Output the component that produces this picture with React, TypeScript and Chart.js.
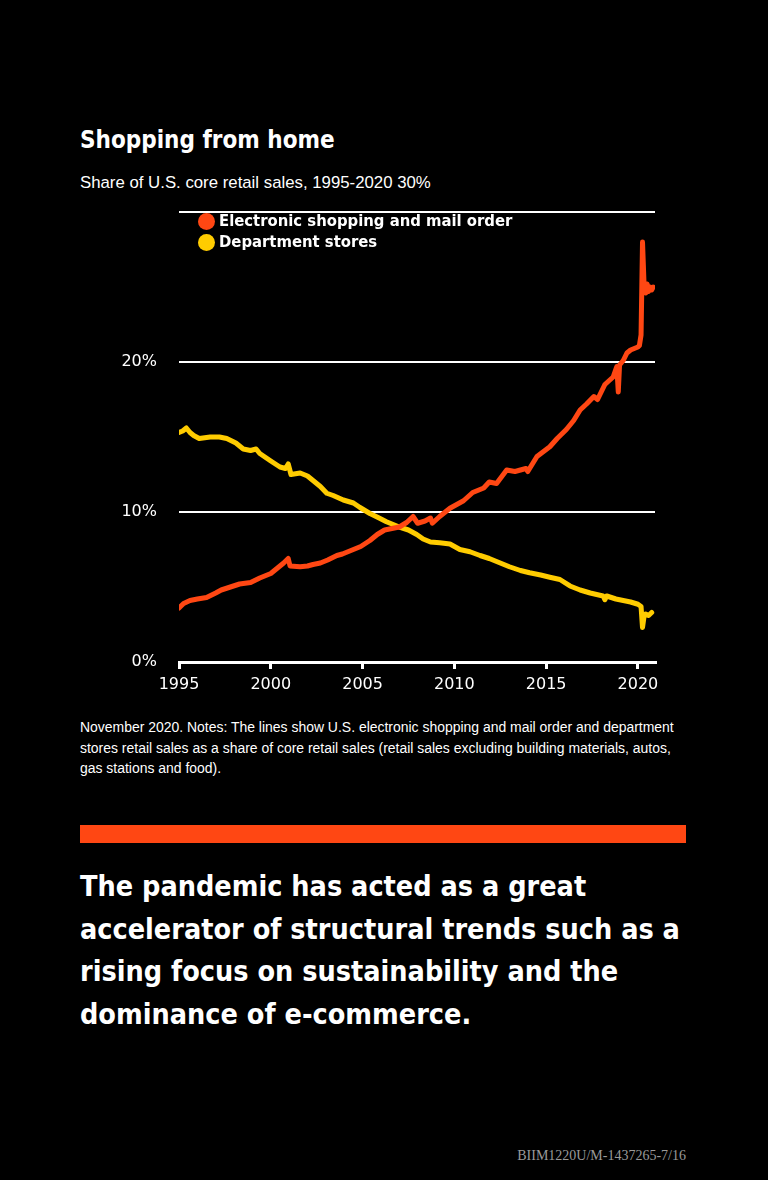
import React, { useEffect, useRef } from "react";
import { Chart, registerables } from "chart.js";

Chart.register(...registerables);

const ecomYears = [
  1995.0, 1995.25, 1995.6, 1996.0, 1996.5, 1997.0, 1997.3, 1997.8, 1998.3, 1998.9,
  1999.4, 2000.0, 2000.4, 2000.7, 2000.95, 2001.05, 2001.6, 2002.0, 2002.3, 2002.7,
  2003.1, 2003.6, 2003.9, 2004.3, 2004.9, 2005.4, 2005.8, 2006.2, 2006.6, 2007.0,
  2007.4, 2007.75, 2008.0, 2008.4, 2008.7, 2008.8, 2009.2, 2009.76, 2010.5, 2011.0,
  2011.6, 2011.9, 2012.3, 2012.85, 2013.3, 2013.9, 2014.0, 2014.5, 2015.2, 2015.6,
  2016.1, 2016.5, 2016.85, 2017.2, 2017.6, 2017.8, 2018.2, 2018.65, 2018.85, 2018.93,
  2019.0, 2019.2, 2019.4, 2019.6, 2019.8, 2020.0, 2020.08, 2020.17, 2020.25, 2020.33,
  2020.42, 2020.5, 2020.58, 2020.67, 2020.75, 2020.83,
];
const ecomValues = [
  3.6, 3.9, 4.1, 4.2, 4.3, 4.6, 4.8, 5.0, 5.2, 5.3,
  5.6, 5.9, 6.3, 6.6, 6.9, 6.4, 6.35, 6.4, 6.5, 6.6,
  6.8, 7.1, 7.2, 7.4, 7.7, 8.1, 8.5, 8.8, 8.9, 9.0,
  9.3, 9.7, 9.25, 9.4, 9.6, 9.25, 9.7, 10.25, 10.75, 11.3,
  11.6, 12.0, 11.9, 12.8, 12.7, 12.9, 12.7, 13.7, 14.35, 14.9,
  15.5, 16.1, 16.8, 17.2, 17.7, 17.5, 18.5, 19.0, 19.7, 18.0,
  19.8, 20.1, 20.6, 20.8, 20.9, 21.0, 21.1, 21.8, 28.0, 25.3,
  24.6, 25.2, 24.7, 25.0, 24.8, 25.0,
];

const deptYears = [
  1995.0, 1995.2, 1995.4, 1995.6, 1995.8, 1996.1, 1996.7, 1997.2, 1997.6, 1998.1,
  1998.5, 1998.9, 1999.2, 1999.4, 2000.0, 2000.5, 2000.8, 2000.95, 2001.1, 2001.6,
  2002.0, 2002.3, 2002.7, 2003.05, 2003.4, 2003.95, 2004.5, 2004.86, 2005.4, 2005.9,
  2006.3, 2007.0, 2007.5, 2007.95, 2008.3, 2008.7, 2009.2, 2009.76, 2010.3, 2010.85,
  2011.4, 2011.9, 2012.5, 2013.0, 2013.6, 2014.1, 2014.7, 2015.2, 2015.75, 2016.3,
  2016.85, 2017.4, 2018.1, 2018.2, 2018.3, 2018.8, 2019.2, 2019.6, 2020.0, 2020.17,
  2020.25, 2020.33, 2020.42, 2020.58, 2020.75,
];
const deptValues = [
  15.3, 15.4, 15.6, 15.3, 15.1, 14.9, 15.0, 15.0, 14.9, 14.6,
  14.2, 14.1, 14.2, 13.9, 13.4, 13.0, 12.9, 13.2, 12.5, 12.6,
  12.4, 12.1, 11.7, 11.25, 11.1, 10.8, 10.6, 10.3, 9.9, 9.6,
  9.35, 9.0, 8.8, 8.5, 8.2, 8.0, 7.95, 7.87, 7.5, 7.35,
  7.1, 6.9, 6.6, 6.35, 6.1, 5.95, 5.8, 5.65, 5.5, 5.07,
  4.8, 4.6, 4.4, 4.15, 4.4, 4.2, 4.1, 4.0, 3.85, 3.7,
  2.3, 3.0, 3.2, 3.1, 3.3,
];

const xTickYears = [1995, 2000, 2005, 2010, 2015, 2020];
const yTickValues = [0, 10, 20, 30];
const seriesLabels = ["Electronic shopping and mail order", "Department stores"];
const seriesColors = ["#ff4713", "#ffcc00"];

const FONT = "'DejaVu Sans', Verdana, sans-serif";
const FONT_COND = "'DejaVu Sans Condensed', 'DejaVu Sans', Verdana, sans-serif";

export default function App() {
  const canvasRef = useRef<HTMLCanvasElement>(null);

  useEffect(() => {
    document.body.style.margin = "0";
    document.body.style.background = "#000";
    const ctx = canvasRef.current!;
    const lineStyle = {
      borderWidth: 5,
      pointRadius: 0,
      tension: 0,
      borderJoinStyle: "round" as const,
      borderCapStyle: "round" as const,
    };
    const chart = new Chart(ctx, {
      type: "line",
      data: {
        datasets: [
          {
            label: seriesLabels[0],
            data: ecomYears.map((x, i) => ({ x, y: ecomValues[i] })),
            borderColor: seriesColors[0],
            backgroundColor: seriesColors[0],
            ...lineStyle,
          },
          {
            label: seriesLabels[1],
            data: deptYears.map((x, i) => ({ x, y: deptValues[i] })),
            borderColor: seriesColors[1],
            backgroundColor: seriesColors[1],
            ...lineStyle,
          },
        ],
      },
      options: {
        animation: false,
        responsive: false,
        maintainAspectRatio: false,
        layout: { padding: { top: 17, right: 25, left: 0, bottom: 0 } },
        plugins: { legend: { display: false }, tooltip: { enabled: false } },
        scales: {
          x: {
            type: "linear",
            min: 1995,
            max: 2020.93,
            afterBuildTicks: (scale: any) => {
              scale.ticks = xTickYears.map((v) => ({ value: v }));
            },
            afterFit: (scale: any) => {
              scale.height = 53;
              scale.paddingLeft = 0;
              scale.paddingRight = 0;
            },
            border: { display: true, color: "#ffffff", width: 3 },
            grid: {
              display: true,
              drawOnChartArea: false,
              drawTicks: true,
              tickLength: 7,
              color: "#ffffff",
              lineWidth: 3,
            },
            ticks: {
              color: "#ffffff",
              font: { family: FONT, size: 16 },
              padding: 6,
              maxRotation: 0,
              autoSkip: false,
              callback: (v: any) => String(v),
            },
          },
          y: {
            type: "linear",
            min: 0,
            max: 30,
            afterBuildTicks: (scale: any) => {
              scale.ticks = yTickValues.map((v) => ({ value: v }));
            },
            afterFit: (scale: any) => {
              scale.width = 79;
              scale.paddingTop = 0;
              scale.paddingBottom = 0;
            },
            border: { display: false },
            grid: {
              display: true,
              drawTicks: false,
              color: "#ffffff",
              lineWidth: 2,
            },
            ticks: {
              color: "#ffffff",
              font: { family: FONT, size: 16 },
              padding: 22,
              callback: (v: any) => (v === 30 ? "" : v + "%"),
            },
          },
        },
      },
    });
    return () => chart.destroy();
  }, []);

  const abs = (s: React.CSSProperties): React.CSSProperties => ({ position: "absolute", margin: 0, ...s });

  return (
    <div style={{ position: "relative", width: 768, height: 1180, background: "#000", overflow: "hidden", color: "#fff" }}>
      <div style={abs({ left: 80, top: 125, fontFamily: FONT_COND, fontStretch: "condensed", fontWeight: "bold", fontSize: 24, lineHeight: "30px", whiteSpace: "nowrap" })}>
        Shopping from home
      </div>
      <div style={abs({ left: 80, top: 173, fontFamily: "'Liberation Sans', Arial, sans-serif", fontSize: 16.8, lineHeight: "20px", whiteSpace: "nowrap" })}>
        Share of U.S. core retail sales, 1995-2020 30%
      </div>
      <canvas ref={canvasRef} width={580} height={520} style={{ position: "absolute", left: 100, top: 195, width: 580, height: 520 }} />
      {seriesLabels.map((lab, i) => (
        <div key={lab} style={abs({ left: 198, top: 211 + i * 21, height: 20, display: "flex", alignItems: "center", fontFamily: FONT_COND, fontStretch: "condensed", fontWeight: "bold", fontSize: 16.5, lineHeight: "20px", whiteSpace: "nowrap" })}>
          <span style={{ display: "inline-block", width: 17, height: 17, borderRadius: "50%", background: seriesColors[i], marginRight: 4 }} />
          {lab}
        </div>
      ))}
      <div style={abs({ left: 80, top: 717, fontFamily: "'Liberation Sans', Arial, sans-serif", fontSize: 15.5, lineHeight: "20.5px", whiteSpace: "nowrap", transform: "scaleX(0.9)", transformOrigin: "0 0" })}>
        November 2020. Notes: The lines show U.S. electronic shopping and mail order and department<br />
        stores retail sales as a share of core retail sales (retail sales excluding building materials, autos,<br />
        gas stations and food).
      </div>
      <div style={abs({ left: 80, top: 825, width: 606, height: 18, background: "#ff4713" })} />
      <div style={abs({ left: 80, top: 866, fontFamily: FONT_COND, fontStretch: "condensed", fontWeight: "bold", fontSize: 28.5, lineHeight: "42.7px", whiteSpace: "nowrap" })}>
        The pandemic has acted as a great<br />
        accelerator of structural trends such as a<br />
        rising focus on sustainability and the<br />
        dominance of e-commerce.
      </div>
      <div style={abs({ right: 82, top: 1148, fontFamily: "'Liberation Serif', 'Times New Roman', serif", fontSize: 14, lineHeight: "16px", color: "#9a9a9a", whiteSpace: "nowrap" })}>
        BIIM1220U/M-1437265-7/16
      </div>
    </div>
  );
}
